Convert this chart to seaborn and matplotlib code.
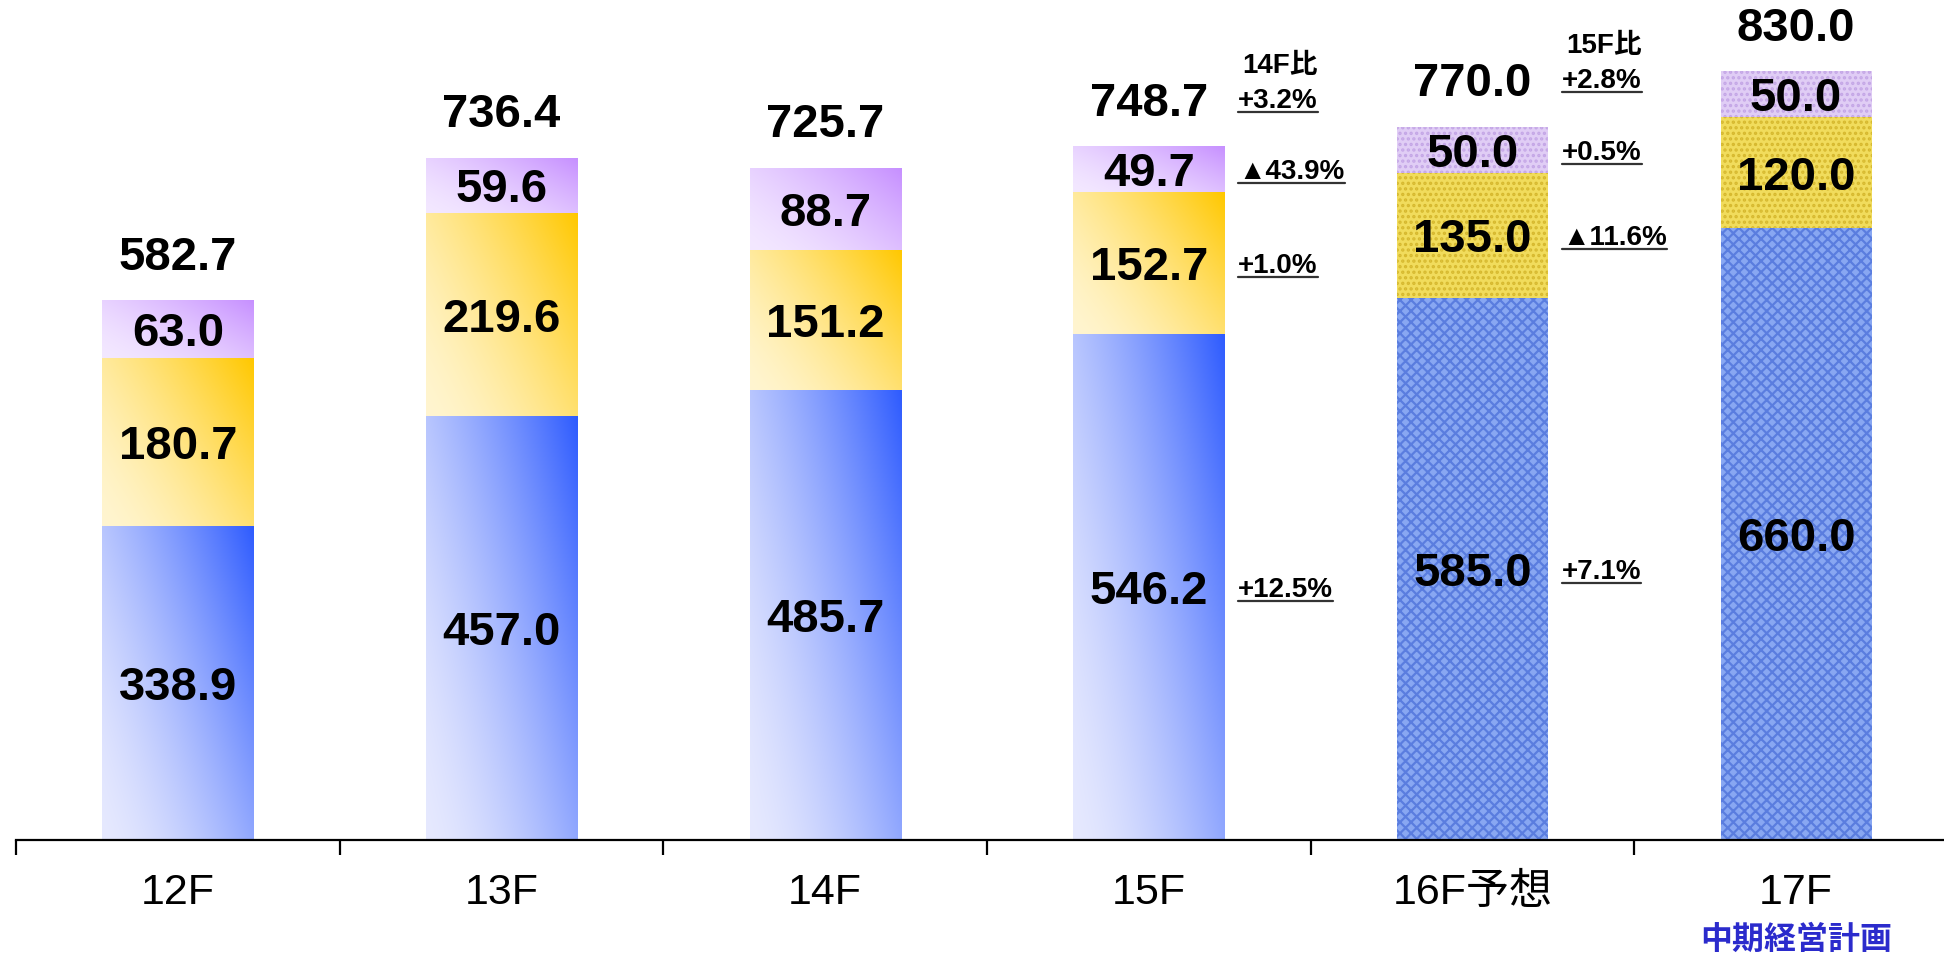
import numpy as np
import pandas as pd
import matplotlib
matplotlib.use("Agg")
from matplotlib import pyplot as plt
from matplotlib.lines import Line2D
from matplotlib.colors import to_rgb
from matplotlib.transforms import IdentityTransform
import seaborn as sns

# data
years = ["12F", "13F", "14F", "15F", "16F予想", "17F"]
blue_vals = [338.9, 457.0, 485.7, 546.2, 585.0, 660.0]
yellow_vals = [180.7, 219.6, 151.2, 152.7, 135.0, 120.0]
purple_vals = [63.0, 59.6, 88.7, 49.7, 50.0, 50.0]
totals = [582.7, 736.4, 725.7, 748.7, 770.0, 830.0]
is_plan = [False, False, False, False, True, True]

# year-on-year notes next to 15F and 16F
note_idx = [3, 4]
note_head = ["14F比", "15F比"]
note_total = ["+3.2%", "+2.8%"]
note_blue = ["+12.5%", "+7.1%"]
note_yellow = ["+1.0%", "▲11.6%"]
note_purple = ["▲43.9%", "+0.5%"]

sns.set_style("white")
plt.rcParams["font.family"] = ["Liberation Sans", "Noto Sans CJK JP", "DejaVu Sans"]
plt.rcParams["text.color"] = "black"
plt.rcParams["hatch.linewidth"] = 1.6

df = pd.DataFrame({"year": years, "blue": blue_vals, "yellow": yellow_vals,
                   "purple": purple_vals})
blue = np.array(blue_vals)
yellow = np.array(yellow_vals)

fig = plt.figure(figsize=(19.44, 9.58), dpi=100)
ax = fig.add_axes([0, 0, 1, 1])

bar_w = 0.467
# (column, bottoms, gradient light, gradient dark, hatch face, hatch colour, hatch)
layers = [
    ("blue", np.zeros(6), "#e6e9fe", "#2f5cff", "#88a7f2", "#5a7ddf", "xxx"),
    ("yellow", blue, "#fff5d0", "#ffc800", "#f1dc5c", "#d6b82e", "..."),
    ("purple", blue + yellow, "#f3e8ff", "#c68fff", "#e0cdf5", "#c4a6e6", "..."),
]


def gradient_fill(patch, light, dark):
    x0, y0 = patch.get_x(), patch.get_y()
    w, h = patch.get_width(), patch.get_height()
    gx, gy = np.meshgrid(np.linspace(0, 1, 80), np.linspace(0, 1, 200))
    t = (np.clip(0.6 * gx + 0.4 * gy, 0, 1) ** 1.5)[..., None]
    rgb = np.array(to_rgb(light)) * (1 - t) + np.array(to_rgb(dark)) * t
    img = ax.imshow(rgb, extent=(x0, x0 + w, y0, y0 + h), origin="lower",
                    aspect="auto", interpolation="bilinear", zorder=1)
    img.set_clip_path(patch)
    patch.set_facecolor("none")
    patch.set_linewidth(0)


for col, bottoms, light, dark, hface, hcol, hatch in layers:
    n0 = len(ax.patches)
    sns.barplot(data=df, x="year", y=col, order=years, bottom=bottoms,
                width=bar_w, color=dark, errorbar=None, ax=ax)
    for i, patch in enumerate(ax.patches[n0:]):
        if is_plan[i]:
            patch.set_facecolor(hface)
            patch.set_edgecolor(hcol)
            patch.set_hatch(hatch)
            patch.set_linewidth(0)
        else:
            gradient_fill(patch, light, dark)
    for i, (b, v) in enumerate(zip(bottoms, df[col])):
        ax.text(i, b + v / 2, f"{v:.1f}", ha="center", va="center_baseline",
                fontsize=34, fontweight="bold", color="black", zorder=5)

for i, tot in enumerate(totals):
    ax.annotate(f"{tot:.1f}", (i, tot), xytext=(0, 34), textcoords="offset points",
                ha="center", va="center_baseline", fontsize=34, fontweight="bold",
                color="black")

underlined = []
note_kw = dict(textcoords="offset points", ha="left", va="center_baseline",
               fontsize=20, fontweight="bold", color="black")
for k, i in enumerate(note_idx):
    xe = i + bar_w / 2
    segs = [(blue_vals[i] / 2, note_blue[k]),
            (blue_vals[i] + yellow_vals[i] / 2, note_yellow[k]),
            (blue_vals[i] + yellow_vals[i] + purple_vals[i] / 2, note_purple[k])]
    for y, s in segs:
        underlined.append(ax.annotate(s, (xe, y), xytext=(10, 0), **note_kw))
    underlined.append(ax.annotate(note_total[k], (xe, totals[i]), xytext=(10, 35), **note_kw))
    ax.annotate(note_head[k], (xe, totals[i]), xytext=(13, 60), **note_kw)

ax.annotate("中期経営計画", (5, 0), xytext=(0, -70), textcoords="offset points",
            ha="center", va="center_baseline", fontsize=23, fontweight="bold",
            color="#2b2bcc", family=["Noto Sans CJK JP"])

# axis: baseline with boundary ticks, labels under bar centres
for side in ["left", "top", "right"]:
    ax.spines[side].set_visible(False)
ax.spines["bottom"].set_position(("data", 0))
ax.spines["bottom"].set_linewidth(1.6)
ax.spines["bottom"].set_color("black")
ax.spines["bottom"].set_bounds(-0.5, 5.5)
ax.yaxis.set_visible(False)
ax.set_xticks(range(len(years)))
ax.set_xticklabels(years, fontsize=31)
ax.set_xticks(np.arange(-0.5, len(years), 1), minor=True)
ax.tick_params(axis="x", which="major", bottom=True, length=0, pad=24,
               labelcolor="black")
ax.tick_params(axis="x", which="minor", bottom=True, length=11, width=1.6,
               direction="out", color="black")
ax.set_xlabel("")
ax.set_ylabel("")
ax.set_xlim(-0.550, 5.457)
ax.set_ylim(-127.8, 906.6)

fig.canvas.draw()
renderer = fig.canvas.get_renderer()
for t in underlined:
    bb = t.get_window_extent(renderer)
    fig.add_artist(Line2D([bb.x0, bb.x1], [bb.y0 + 2, bb.y0 + 2],
                          transform=IdentityTransform(), color="#333333", lw=1.6))

fig.savefig("out.png", dpi=100)
